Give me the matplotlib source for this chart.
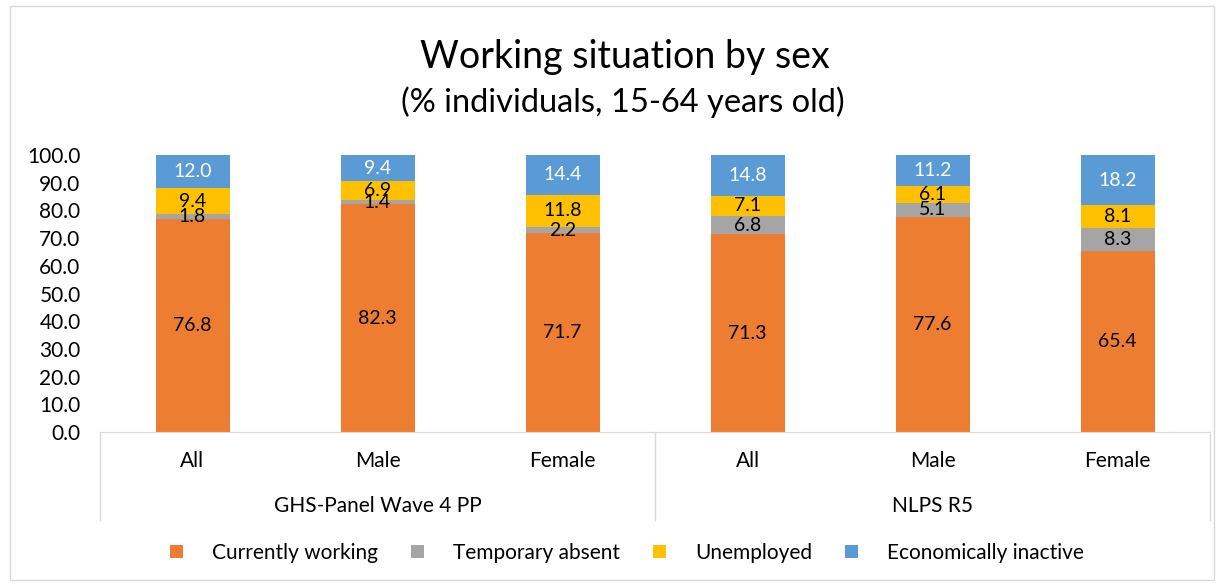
import numpy as np
import matplotlib.pyplot as plt
from matplotlib.patches import Rectangle

plt.rcParams['font.family'] = ['Lato', 'DejaVu Sans']

# categories and groups
cats = ["All", "Male", "Female", "All", "Male", "Female"]
groups = ["GHS-Panel Wave 4 PP", "NLPS R5"]

working = [76.8, 82.3, 71.7, 71.3, 77.6, 65.4]
absent = [1.8, 1.4, 2.2, 6.8, 5.1, 8.3]
unemployed = [9.4, 6.9, 11.8, 7.1, 6.1, 8.1]
inactive = [12.0, 9.4, 14.4, 14.8, 11.2, 18.2]

series = [("Currently working", working, "#ED7D31", "black"),
          ("Temporary absent", absent, "#A5A5A5", "black"),
          ("Unemployed", unemployed, "#FFC000", "black"),
          ("Economically inactive", inactive, "#5B9BD5", "white")]

fig = plt.figure(figsize=(12.24, 5.86), dpi=100)
ax = fig.add_axes([100/1224, 1 - 432/586, 1110/1224, 277/586])

x = np.arange(len(cats))
bottom = np.zeros(len(cats))
handles = []
for name, vals, col, tcol in series:
    vals = np.array(vals)
    b = ax.bar(x, vals, 0.4, bottom=bottom, color=col, label=name)
    handles.append(b)
    for xi, yb, v in zip(x, bottom, vals):
        ax.text(xi, yb + v / 2, f"{v:.1f}", ha="center", va="center",
                fontsize=14, color=tcol)
    bottom += vals

ax.set_xlim(-0.5, 5.5)
ax.set_ylim(0, 100)
ax.set_yticks(np.arange(0, 101, 10))
ax.set_yticklabels([f"{v:.1f}" for v in np.arange(0, 101, 10)], fontsize=15)
ax.tick_params(axis="y", length=0, pad=14)
ax.set_xticks([])
for s in ["top", "right", "left"]:
    ax.spines[s].set_visible(False)
ax.spines["bottom"].set_color("#D9D9D9")

# two-level category axis
tr = ax.get_xaxis_transform()
for xi, c in zip(x, cats):
    ax.text(xi, -0.105, c, transform=tr, ha="center", va="center", fontsize=15)
for gi, g in enumerate(groups):
    ax.text(gi * 3 + 1, -0.267, g, transform=tr, ha="center", va="center", fontsize=15)
for xs in [-0.5, 2.5, 5.5]:
    ax.plot([xs, xs], [0, -0.318], transform=tr, color="#D9D9D9", lw=1, clip_on=False)

fig.text(625/1224, 1 - 57/586, "Working situation by sex", ha="center", va="center", fontsize=27)
fig.text(623/1224, 1 - 102/586, "(% individuals, 15-64 years old)", ha="center", va="center", fontsize=23.5)

fig.legend(handles=handles, loc="center", bbox_to_anchor=(627/1224, 1 - 553/586),
           ncol=4, frameon=False, fontsize=15, handlelength=0.6, handleheight=0.6,
           columnspacing=1.6, handletextpad=1.4)

fig.patches.append(Rectangle((10/1224, 6/586), 1204/1224, 574/586, transform=fig.transFigure,
                             fill=False, edgecolor="#D9D9D9", lw=1))

fig.savefig("out.png", dpi=100)
